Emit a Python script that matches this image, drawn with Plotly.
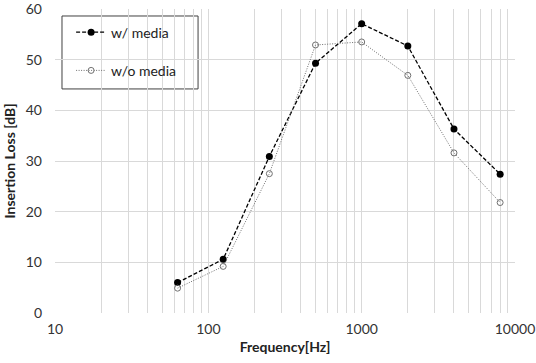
import plotly.graph_objects as go

freq = [63, 125, 250, 500, 1000, 2000, 4000, 8000]
with_media = [6.0, 10.6, 30.9, 49.3, 57.1, 52.7, 36.3, 27.4]
without_media = [4.9, 9.2, 27.5, 52.9, 53.5, 46.9, 31.6, 21.8]
x_ticks = [10, 100, 1000, 10000]
x_tick_labels = ["10", "100", "1000", "10000"]
y_ticks = [0, 10, 20, 30, 40, 50, 60]

font_family = "Lato, Open Sans, sans-serif"
grid_color = "#d9d9d9"

fig = go.Figure()
fig.add_trace(go.Scatter(
    x=freq, y=with_media, name="w/ media", mode="lines+markers",
    legendgroup="a",
    line=dict(color="black", dash="4px,2px", width=1.3),
    marker=dict(symbol="circle", size=7, color="black"),
))
fig.add_trace(go.Scatter(
    x=freq, y=without_media, name="w/o media", mode="lines+markers",
    legendgroup="b",
    line=dict(color="#707070", dash="1px,1.5px", width=1),
    marker=dict(symbol="circle-open", size=6, color="#707070", line=dict(width=1)),
))

# legend frame
fig.add_shape(type="rect", xref="paper", yref="paper",
              x0=0.0152, x1=0.311, y0=0.737, y1=0.977,
              line=dict(color="#404040", width=1), fillcolor="white", layer="below")

fig.update_layout(
    width=536, height=363,
    margin=dict(l=55, r=21, t=9, b=50, autoexpand=False),
    paper_bgcolor="white", plot_bgcolor="white",
    font=dict(family=font_family, size=14, color="#333"),
    showlegend=True,
    legend=dict(
        x=0.035, y=0.975, xanchor="left", yanchor="top",
        bgcolor="rgba(0,0,0,0)", borderwidth=0,
        font=dict(size=14, color="#222"),
        tracegroupgap=17, itemwidth=30,
    ),
    xaxis=dict(
        type="log", range=[1, 4],
        tickvals=x_ticks, ticktext=x_tick_labels,
        showgrid=True, gridcolor=grid_color, gridwidth=1,
        minor=dict(dtick="D1", showgrid=True, gridcolor=grid_color, gridwidth=1, ticks=""),
        zeroline=False, showline=False, ticks="",
        ticklabelstandoff=6, ticklabeloverflow="allow", automargin=False,
        tickfont=dict(size=14),
        title=dict(text="<b>Frequency[Hz]</b>", font=dict(size=14, color="#222"), standoff=6),
    ),
    yaxis=dict(
        range=[0, 60.001], tickvals=y_ticks,
        showgrid=True, gridcolor=grid_color, gridwidth=1,
        zeroline=False, showline=False, ticks="",
        ticklabelstandoff=12, ticklabeloverflow="allow", automargin=False,
        tickfont=dict(size=14),
        title=dict(text="<b>Insertion Loss [dB]</b>", font=dict(size=14, color="#222"), standoff=6),
    ),
)

fig.write_html("out.html", config={"displayModeBar": False},
               post_script="document.body.style.margin='0';")
